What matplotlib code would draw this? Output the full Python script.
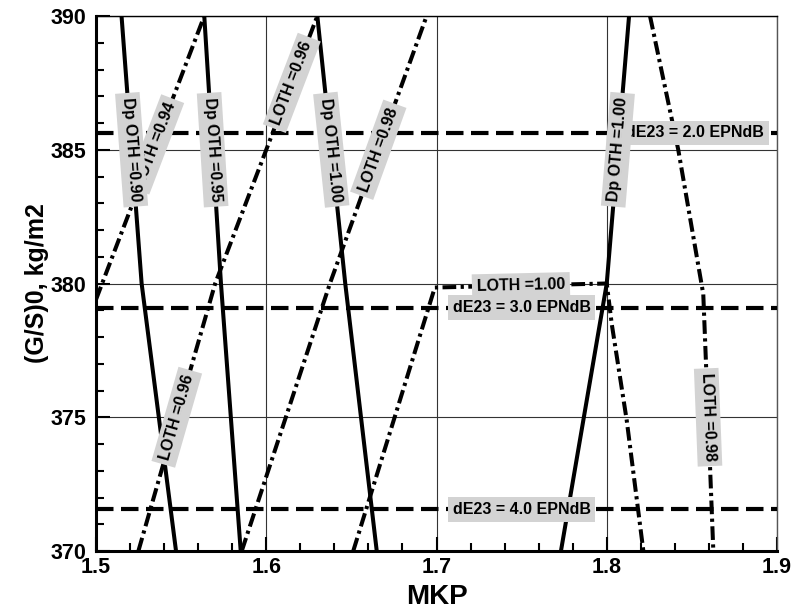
"""
Carpet of (G/S)0 vs MKP with Dp OTH / LOTH contours and dE23 noise limits.
"""
import numpy as np
import matplotlib
matplotlib.use("Agg")
import matplotlib.pyplot as plt
from matplotlib.ticker import MultipleLocator

plt.rcParams["font.family"] = ["Liberation Sans", "DejaVu Sans"]
plt.rcParams["font.weight"] = "bold"

# Dp OTH contours (solid): MKP at each (G/S)0 level
dp_y = [370, 380, 390]
dp090_x = [1.547, 1.5268, 1.515]
dp095_x = [1.585, 1.5734, 1.5636]
dp100a_x = [1.6649, 1.6464, 1.630]
dp100b_x = [1.7731, 1.800, 1.8131]

# LOTH contours (dash-dot)
loth094_x = [1.5, 1.5636]
loth094_y = [379.4, 390]
loth096_x = [1.5249, 1.570, 1.600, 1.630]
loth096_y = [370, 380, 385, 390]
loth098a_x = [1.5856, 1.6374, 1.6942]
loth098a_y = [370, 380, 390]
loth100_x = [1.6511, 1.699, 1.800, 1.8029, 1.8117, 1.8215]
loth100_y = [370, 379.85, 380.0, 378.5, 374.9, 370]
loth098b_x = [1.8254, 1.842, 1.8567, 1.8626]
loth098b_y = [390, 385, 379.6, 370]

# dE23 noise-margin levels
de23_levels = [2.0, 3.0, 4.0]
de23_y = [385.63, 379.1, 371.56]

W, H = 794, 613
fig = plt.figure(figsize=(W / 100, H / 100), dpi=100)
ax = fig.add_axes([96 / W, 1 - 551 / H, (777 - 96) / W, (551 - 16) / H])
ax.set_xlim(1.5, 1.9)
ax.set_ylim(370, 390)

SOLID = dict(color="black", lw=2.9, solid_capstyle="butt", zorder=3)
DASHDOT = dict(color="black", lw=2.9, linestyle=(0, (3.4, 1.1, 0.8, 1.1)),
               dash_capstyle="butt", zorder=3)
DASHED = dict(color="black", lw=3.0, linestyle=(0, (4.2, 1.8)),
              dash_capstyle="butt", zorder=3)
BOX = dict(boxstyle="square,pad=0.3", fc="#d3d3d3", ec="none")

for xs in (dp090_x, dp095_x, dp100a_x, dp100b_x):
    ax.plot(xs, dp_y, **SOLID)

lothes = [(loth094_x, loth094_y), (loth096_x, loth096_y),
          (loth098a_x, loth098a_y), (loth100_x, loth100_y),
          (loth098b_x, loth098b_y)]
for xs, ys in lothes:
    ax.plot(xs, ys, **DASHDOT)

for y in de23_y:
    ax.axhline(y, **DASHED)


def place(xs, ys, at, by="y"):
    """Point on a polyline at a given y (or x) and its on-screen angle."""
    a, b = (ys, xs) if by == "y" else (xs, ys)
    for i in range(len(xs) - 1):
        a0, a1 = a[i], a[i + 1]
        if a0 != a1 and min(a0, a1) <= at <= max(a0, a1):
            t = (at - a0) / (a1 - a0)
            other = b[i] + t * (b[i + 1] - b[i])
            p0 = ax.transData.transform((xs[i], ys[i]))
            p1 = ax.transData.transform((xs[i + 1], ys[i + 1]))
            ang = np.degrees(np.arctan2(p1[1] - p0[1], p1[0] - p0[0]))
            if ang > 90:
                ang -= 180
            elif ang <= -90:
                ang += 180
            if by == "y":
                return other, at, ang
            return at, other, ang
    raise ValueError("level not on curve")


def label(xs, ys, at, text, by="y", z=5):
    x, y, ang = place(xs, ys, at, by)
    ax.text(x, y, text, rotation=ang, rotation_mode="anchor", ha="center",
            va="center", fontsize=11.5, fontweight="bold", bbox=BOX, zorder=z)


# contour labels
label(loth094_x, loth094_y, 385.2, "LOTH =0.94")
label(loth096_x, loth096_y, 387.5, "LOTH =0.96")
label(loth096_x, loth096_y, 375.0, "LOTH =0.96")
label(loth098a_x, loth098a_y, 385.0, "LOTH =0.98")
label(loth098b_x, loth098b_y, 375.0, "LOTH =0.98")
label(loth100_x, loth100_y, 1.7496, "LOTH =1.00", by="x")
label(dp090_x, dp_y, 385.0, "Dp OTH =0.90", z=6)
label(dp095_x, dp_y, 385.0, "Dp OTH =0.95", z=6)
label(dp100a_x, dp_y, 385.0, "Dp OTH =1.00", z=6)
label(dp100b_x, dp_y, 385.0, "Dp OTH =1.00", z=6)

de23_xpos = [1.852, 1.75, 1.75]
for lev, y, x in zip(de23_levels, de23_y, de23_xpos):
    ax.text(x, y, f"dE23 = {lev:.1f} EPNdB", ha="center", va="center",
            fontsize=11.5, fontweight="bold", bbox=BOX, zorder=5)

# axes styling
ax.xaxis.set_major_locator(MultipleLocator(0.1))
ax.xaxis.set_minor_locator(MultipleLocator(0.02))
ax.yaxis.set_major_locator(MultipleLocator(5))
ax.yaxis.set_minor_locator(MultipleLocator(1))
ax.xaxis.set_major_formatter(plt.FuncFormatter(lambda v, p: f"{v:.1f}"))
ax.yaxis.set_major_formatter(plt.FuncFormatter(lambda v, p: f"{v:.0f}"))
ax.tick_params(which="both", direction="in", top=False, right=False,
               labelsize=15.5, width=1.5)
ax.tick_params(which="major", length=10)
ax.tick_params(which="minor", length=6)
ax.tick_params(axis="x", pad=4)
ax.tick_params(axis="y", pad=7)
for lab in ax.get_xticklabels() + ax.get_yticklabels():
    lab.set_fontweight("bold")

ax.grid(which="major", color="#333333", lw=0.8)
ax.set_axisbelow(True)
for side in ("left", "bottom"):
    ax.spines[side].set_linewidth(2.2)
for side in ("top", "right"):
    ax.spines[side].set_linewidth(1.0)
ax.spines["right"].set_color("#555555")

ax.set_xlabel("MKP", fontsize=20, fontweight="bold")
ax.set_ylabel("(G/S)0, kg/m2", fontsize=18, fontweight="bold")
ax.xaxis.set_label_coords(0.5, (551 - 597) / 535)
ax.yaxis.set_label_coords((37 - 96) / 681, 0.5)
ax.xaxis.label.set_va("center")
ax.yaxis.label.set_va("center")

fig.savefig("out.png", dpi=100, facecolor="white")
